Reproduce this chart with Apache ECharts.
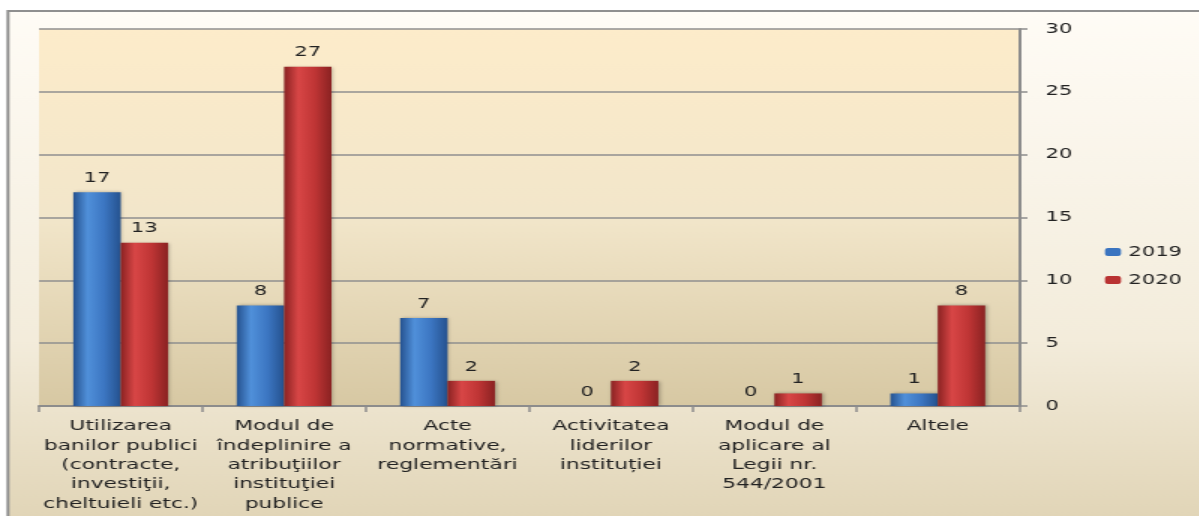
<!DOCTYPE html>
<html>
<head>
<meta charset="utf-8">
<script src="https://cdn.jsdelivr.net/npm/echarts@6.0.0/dist/echarts.min.js"></script>
<style>
  html, body { margin: 0; padding: 0; background: #fff; overflow: hidden; }
  /* originalul e intins pe orizontala, asa ca desenam mai ingust si intindem */
  #chart { width: 799.33px; height: 516px; transform: scaleX(1.5); transform-origin: 0 0; }
</style>
</head>
<body>
<div id="chart"></div>
<script>
// categorii si valori
const categories = [
  'Utilizarea\nbanilor publici\n(contracte,\ninvestiţii,\ncheltuieli etc.)',
  'Modul de\nîndeplinire a\natribuţiilor\ninstituţiei\npublice',
  'Acte\nnormative,\nreglementări',
  'Activitatea\nliderilor\ninstituției',
  'Modul de\naplicare al\nLegii nr.\n544/2001',
  'Altele'
];
const values2019 = [17, 8, 7, 0, 0, 1];
const values2020 = [13, 27, 2, 2, 1, 8];
const yTicks = { min: 0, max: 30, interval: 5 };

const FONT = 'DejaVu Sans';
const SX = 1.5; // factor de intindere orizontala

// gradient orizontal, ca un cilindru
function barGradient(edge, mid, light) {
  return new echarts.graphic.LinearGradient(0, 0, 1, 0, [
    { offset: 0, color: edge },
    { offset: 0.3, color: light },
    { offset: 0.65, color: mid },
    { offset: 1, color: edge }
  ]);
}

const chart = echarts.init(document.getElementById('chart'));

const option = {
  backgroundColor: '#ffffff',
  animation: false,
  textStyle: { fontFamily: FONT },
  graphic: [{
    type: 'rect',
    z: -10,
    silent: true,
    shape: { x: 8 / SX, y: 11, width: 1000, height: 600 },
    style: {
      fill: new echarts.graphic.LinearGradient(0, 0, 0, 1, [
        { offset: 0, color: '#fffcf6' },
        { offset: 0.55, color: '#f3ecdb' },
        { offset: 1, color: '#d8c9a4' }
      ]),
      stroke: '#8f8f8f',
      lineWidth: 2
    }
  }],
  grid: {
    left: 39 / SX, right: 799.33 - 1020 / SX, top: 29, bottom: 110,
    outerBoundsMode: 'none',
    containLabel: false,
    show: true,
    borderWidth: 0,
    backgroundColor: new echarts.graphic.LinearGradient(0, 0, 0, 1, [
      { offset: 0, color: '#fdecca' },
      { offset: 0.5, color: '#f2e6ca' },
      { offset: 1, color: '#d7c8a3' }
    ])
  },
  legend: {
    orient: 'vertical',
    left: 1105 / SX,
    top: 245,
    padding: 0,
    itemWidth: 16 / SX,
    itemHeight: 8,
    itemGap: 14,
    textStyle: { fontFamily: FONT, fontSize: 14, color: '#222' },
    data: [
      { name: '2019', itemStyle: { color: '#3a74c0' } },
      { name: '2020', itemStyle: { color: '#b93232' } }
    ]
  },
  xAxis: {
    type: 'category',
    data: categories,
    axisLine: { lineStyle: { color: '#8c8c8c', width: 2 } },
    axisTick: { show: true, length: 6, lineStyle: { color: '#8c8c8c', width: 1.5 } },
    axisLabel: {
      interval: 0,
      margin: 11,
      fontFamily: FONT,
      fontSize: 14.5,
      lineHeight: 19.3,
      color: '#222'
    }
  },
  yAxis: {
    type: 'value',
    position: 'right',
    min: yTicks.min,
    max: yTicks.max,
    interval: yTicks.interval,
    axisLine: { show: true, lineStyle: { color: '#8c8c8c', width: 2 } },
    axisTick: { show: true, length: 8 / SX, lineStyle: { color: '#8c8c8c', width: 1.5 } },
    axisLabel: { margin: 26 / SX, fontFamily: FONT, fontSize: 14, color: '#222' },
    splitLine: { lineStyle: { color: '#8f8f8f', width: 1.5 } }
  },
  series: [
    {
      name: '2019',
      type: 'bar',
      data: values2019,
      barGap: '0%',
      barCategoryGap: '42%',
      itemStyle: {
        color: barGradient('#25528f', '#3c76c2', '#5090da'),
        shadowColor: 'rgba(0,0,0,0.3)',
        shadowBlur: 3,
        shadowOffsetX: 1
      },
      label: { show: true, position: 'top', distance: 7, fontFamily: FONT, fontSize: 14, color: '#222' }
    },
    {
      name: '2020',
      type: 'bar',
      data: values2020,
      itemStyle: {
        color: barGradient('#8a2222', '#bf3535', '#d84646'),
        shadowColor: 'rgba(0,0,0,0.3)',
        shadowBlur: 3,
        shadowOffsetX: 1
      },
      label: { show: true, position: 'top', distance: 7, fontFamily: FONT, fontSize: 14, color: '#222' }
    }
  ]
};

chart.setOption(option);
</script>
</body>
</html>
